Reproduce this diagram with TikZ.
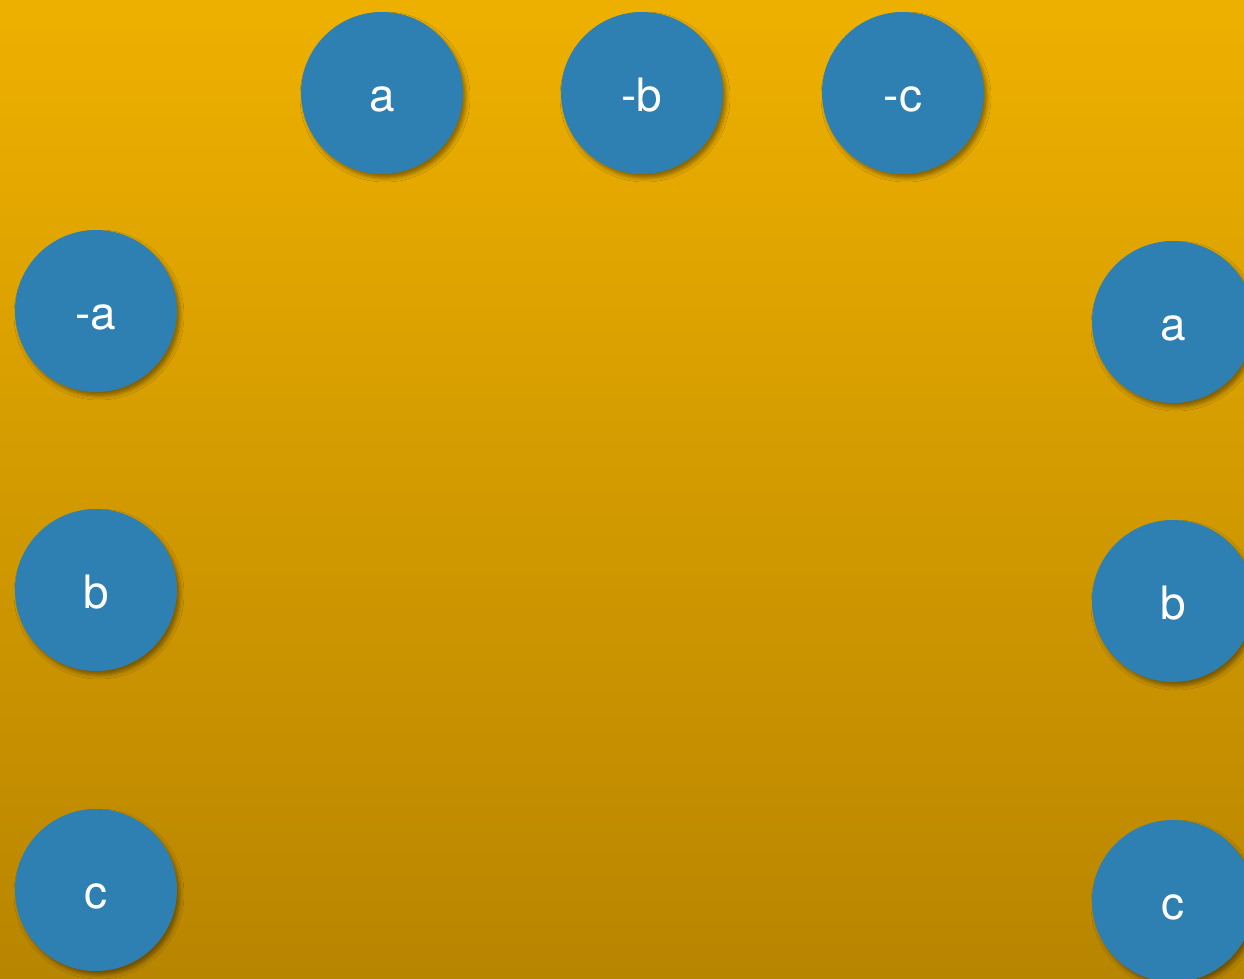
\documentclass[tikz,border=0pt]{standalone}
\usepackage{fontspec}
\setmainfont{TeX Gyre Heros}
\usetikzlibrary{shadows.blur}
\definecolor{bgtop}{HTML}{EEB000}
\definecolor{bgbot}{HTML}{B88500}
\definecolor{disc}{HTML}{2E80B2}
\newcommand{\dlabel}[1]{\raisebox{-18pt}[0pt][0pt]{#1}}
\begin{document}
\begin{tikzpicture}[x=1pt,y=-1pt,
  disk/.style={circle,fill=disc,minimum size=162pt,inner sep=0pt,text=white,
    font=\fontsize{46}{50}\selectfont,
    blur shadow={shadow xshift=3pt,shadow yshift=-4pt,shadow blur radius=4pt,shadow opacity=40}}]
\useasboundingbox (0,0) rectangle (1244,978);
\clip (0,0) rectangle (1244,978);
\shade[top color=bgtop,bottom color=bgbot] (0,0) rectangle (1244,978);
\node[disk] (ta) at (382,93) {\dlabel{a}};
\node[disk] (tb) at (642,93) {\dlabel{-b}};
\node[disk] (tc) at (903,93) {\dlabel{-c}};
\node[disk] (la) at (96,311) {\dlabel{-a}};
\node[disk] (lb) at (96,590) {\dlabel{b}};
\node[disk] (lc) at (96,890) {\dlabel{c}};
\node[disk] (ra) at (1173,322) {\dlabel{a}};
\node[disk] (rb) at (1173,601) {\dlabel{b}};
\node[disk] (rc) at (1173,901) {\dlabel{c}};
\end{tikzpicture}
\end{document}
